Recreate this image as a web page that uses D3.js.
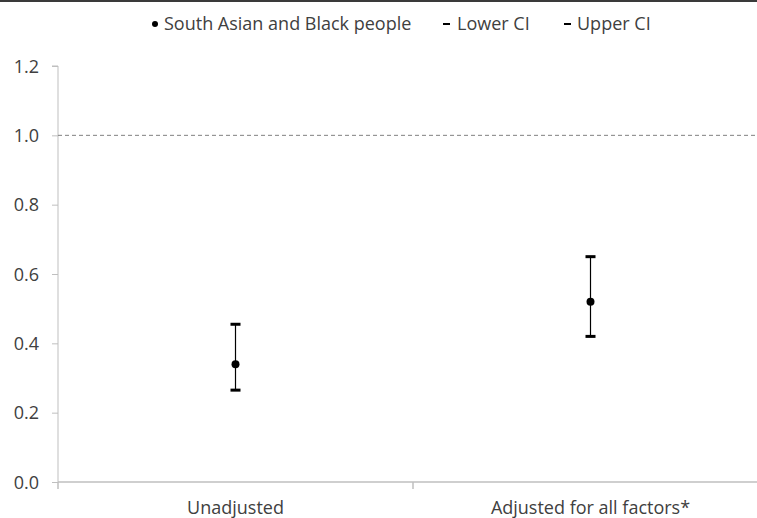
<!DOCTYPE html>
<html><head><meta charset="utf-8">
<script src="https://cdn.jsdelivr.net/npm/d3@7"></script>
<style>html,body{margin:0;padding:0;background:#fff;overflow:hidden}</style>
</head><body>
<svg id="chart" width="757" height="518"></svg>
<script>
const categories = ["Unadjusted", "Adjusted for all factors*"];
const pointValues = [0.34, 0.52];
const lowerCI = [0.265, 0.42];
const upperCI = [0.455, 0.65];
const yTicks = [0, 0.2, 0.4, 0.6, 0.8, 1.0, 1.2];
const legendLabels = ["South Asian and Black people", "Lower CI", "Upper CI"];

const svg = d3.select("#chart");
const textColor = "#404040";
const fontFam = "Open Sans, sans-serif";

// top border
svg.append("rect").attr("x",0).attr("y",0).attr("width",757).attr("height",2).attr("fill","#3a3a3a");

const x = d3.scaleBand().domain(categories).range([58, 768]);
const y = d3.scaleLinear().domain([0, 1.2]).range([482, 66]);

// y axis
const yAxis = svg.append("g").attr("transform","translate(58,0)")
  .call(d3.axisLeft(y).tickValues(yTicks).tickFormat(d3.format(".1f")).tickSize(6).tickPadding(6));
yAxis.select(".domain").attr("stroke","#bfbfbf").attr("d","M-6,66H0V482");
yAxis.selectAll(".tick line").attr("stroke","#bfbfbf");
yAxis.selectAll(".tick text").attr("fill",textColor).style("font-family",fontFam).style("font-size","18px").attr("x",-19).attr("dy","0.34em");

// reference line at 1.0
svg.append("line").attr("x1",58).attr("x2",757).attr("y1",y(1.0)).attr("y2",y(1.0))
  .attr("stroke","#808080").attr("stroke-width",1).attr("stroke-dasharray","4,3");

// x axis
const xAxis = svg.append("g").attr("transform","translate(0,482)");
xAxis.append("line").attr("x1",58).attr("x2",757).attr("y1",0).attr("y2",0).attr("stroke","#bfbfbf").attr("stroke-width",1.5);
const boundaries = [x.range()[0], x(categories[1])];
xAxis.selectAll("line.tk").data(boundaries).join("line").attr("class","tk")
  .attr("x1",d=>d).attr("x2",d=>d).attr("y1",0).attr("y2",7).attr("stroke","#bfbfbf").attr("stroke-width",1.5);
xAxis.selectAll("text").data(categories).join("text")
  .attr("x",d=>x(d)+x.bandwidth()/2).attr("y",32).attr("text-anchor","middle")
  .attr("fill",textColor).style("font-family",fontFam).style("font-size","18px").text(d=>d);

// error bars
const g = svg.append("g");
categories.forEach((c,i)=>{
  const cx = x(c)+x.bandwidth()/2;
  g.append("line").attr("x1",cx).attr("x2",cx).attr("y1",y(upperCI[i])).attr("y2",y(lowerCI[i]))
    .attr("stroke","#000").attr("stroke-width",1.2);
  [lowerCI[i], upperCI[i]].forEach(v=>{
    g.append("rect").attr("x",cx-5).attr("y",y(v)-1.5).attr("width",10).attr("height",3).attr("fill","#000");
  });
  g.append("circle").attr("cx",cx).attr("cy",y(pointValues[i])).attr("r",4).attr("fill","#000");
});

// legend
const leg = svg.append("g");
const legY = 24;
const legX = [155, 446, 567];
leg.append("circle").attr("cx",legX[0]).attr("cy",legY).attr("r",3).attr("fill","#000");
leg.append("rect").attr("x",legX[1]-3).attr("y",legY-1).attr("width",7).attr("height",2).attr("fill","#000");
leg.append("rect").attr("x",legX[2]-3).attr("y",legY-1).attr("width",7).attr("height",2).attr("fill","#000");
const legTextX = [164, 457, 577];
legendLabels.forEach((t,i)=>{
  leg.append("text").attr("x",legTextX[i]).attr("y",legY+6).attr("fill",textColor)
    .style("font-family",fontFam).style("font-size","18px").text(t);
});
</script>
</body></html>
